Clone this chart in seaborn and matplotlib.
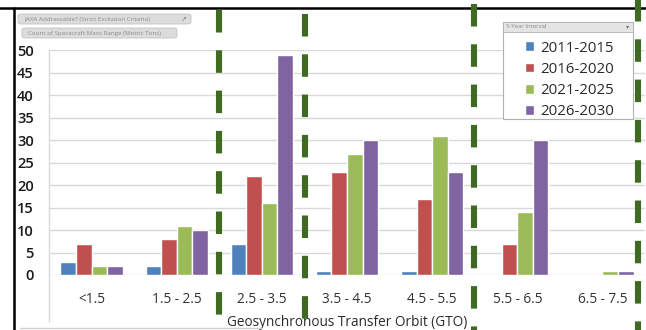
import numpy as np
import pandas as pd
import seaborn as sns
import matplotlib
matplotlib.use("Agg")
import matplotlib.pyplot as plt
from matplotlib.lines import Line2D
from matplotlib.patches import FancyBboxPatch, Rectangle

# Spacecraft counts per mass range (metric tons), by 5-year interval
mass_ranges = ["<1.5", "1.5 - 2.5", "2.5 - 3.5", "3.5 - 4.5", "4.5 - 5.5", "5.5 - 6.5", "6.5 - 7.5"]
intervals = ["2011-2015", "2016-2020", "2021-2025", "2026-2030"]
counts_2011_2015 = [3, 2, 7, 1, 1, 0, 0]
counts_2016_2020 = [7, 8, 22, 23, 17, 7, 0]
counts_2021_2025 = [2, 11, 16, 27, 31, 14, 1]
counts_2026_2030 = [2, 10, 49, 30, 23, 30, 1]
y_ticks = [0, 5, 10, 15, 20, 25, 30, 35, 40, 45, 50]

series = [counts_2011_2015, counts_2016_2020, counts_2021_2025, counts_2026_2030]
df = pd.DataFrame(
    [(r, iv, v) for iv, vals in zip(intervals, series) for r, v in zip(mass_ranges, vals)],
    columns=["range", "interval", "count"],
)

sns.set_style("white")
plt.rcParams["font.family"] = ["Open Sans", "DejaVu Sans"]
plt.rcParams["lines.scale_dashes"] = False

W, H = 646, 330
fig = plt.figure(figsize=(W / 100, H / 100), dpi=100)
fig.patch.set_facecolor("white")


def fx(px):
    return px / W


def fy(py):
    return 1 - py / H


ax_left, ax_right, ax_top, ax_bottom = 49, 645, 50, 275
ax = fig.add_axes([fx(ax_left), fy(ax_bottom), fx(ax_right - ax_left), (ax_bottom - ax_top) / H])

palette = ["#4F81BD", "#C0504D", "#9BBB59", "#8064A2"]
sns.barplot(data=df, x="range", y="count", hue="interval", hue_order=intervals,
            order=mass_ranges, palette=palette, saturation=1, width=0.73,
            errorbar=None, ax=ax, zorder=3)

ax.set_ylim(0, 50)
ax.set_xlim(-0.5, len(mass_ranges) - 0.5)
ax.set_yticks(y_ticks)
ax.yaxis.grid(True, color="#d9d9d9", linewidth=1.0, zorder=0)
ax.set_axisbelow(True)
for s in ["top", "right", "bottom"]:
    ax.spines[s].set_visible(False)
ax.spines["left"].set_color("#d9d9d9")
ax.spines["left"].set_linewidth(1.0)
ax.set_ylabel("")
ax.set_xlabel("Geosynchronous Transfer Orbit (GTO)", fontsize=9.8, color="#2a2a2a", labelpad=6)

ax.tick_params(axis="y", length=4, color="#d9d9d9", pad=7, labelsize=10.5, labelcolor="#1a1a1a")
for t in ax.get_yticklabels():
    t.set_fontweight("semibold")
ax.tick_params(axis="x", which="major", length=0, pad=12, labelsize=9.8, labelcolor="#333333")
ax.set_xticks(np.arange(0.5, len(mass_ranges) - 0.5), minor=True)
ax.tick_params(axis="x", which="minor", length=18, color="#d9d9d9", width=1.0)

# left axis line runs down through the label band
fig.add_artist(Line2D([fx(48.5), fx(48.5)], [fy(ax_bottom), fy(322)], color="#d9d9d9", lw=1.0))
fig.add_artist(Line2D([fx(20), fx(262)], [fy(327.5), fy(327.5)], color="#d0d0d0", lw=1.0))

# legend panel with its field header
ax.legend_.remove()
fig.add_artist(Rectangle((fx(503), fy(119)), fx(130), (119 - 22) / H, transform=fig.transFigure,
                         facecolor="white", edgecolor="#b0b0b0", lw=0.8, zorder=5))
fig.add_artist(Rectangle((fx(503), fy(32)), fx(130), 10 / H, transform=fig.transFigure,
                         facecolor="#e4e4e4", edgecolor="#b0b0b0", lw=0.6, zorder=6))
fig.text(fx(506), fy(27), "5-Year Interval", fontsize=4.3, color="#8a8a8a", va="center", zorder=7)
fig.text(fx(628), fy(27), "\u25be", fontsize=4.5, color="#707070", va="center", ha="center", zorder=7,
         family="DejaVu Sans")
handles = [Rectangle((0, 0), 1, 1, facecolor=c) for c in palette]
fig.legend(handles, intervals, loc="upper left", bbox_to_anchor=(fx(514), fy(30)),
           frameon=False, fontsize=10.8, labelcolor="#2a2a2a", handlelength=0.6,
           handleheight=0.6, handletextpad=0.45, labelspacing=0.42, borderpad=0.2)

# field buttons at the top-left
for (x0, y0, x1, y1, label) in [
    (18, 14, 191, 24, "JAXA Addressable? (Strict Exclusion Criteria)"),
    (22, 28, 177, 38, "Count of Spacecraft Mass Range (Metric Tons)"),
]:
    fig.add_artist(FancyBboxPatch((fx(x0), fy(y1)), fx(x1 - x0), (y1 - y0) / H,
                                  boxstyle="round,pad=0,rounding_size=0.006",
                                  transform=fig.transFigure, facecolor="#dcdcdc",
                                  edgecolor="#c4c4c4", lw=0.6, zorder=5))
    fig.text(fx(x0 + 6), fy((y0 + y1) / 2), label, fontsize=4.5, color="#8c8c8c",
             va="center", zorder=6)
fig.text(fx(184), fy(19), "\u2197", fontsize=5, color="#808080", va="center", ha="center", zorder=6,
         family="DejaVu Sans")

# window frame
fig.add_artist(Line2D([0, 1], [fy(7.5), fy(7.5)], color="black", lw=1.8, zorder=8))
fig.add_artist(Line2D([fx(14), fx(14)], [fy(7.5), 0], color="black", lw=1.8, zorder=8))

# dashed green dividers
for xpx, start in [(219, 10), (305, 14), (474, 4), (637.5, -5)]:
    ln = Line2D([fx(xpx), fx(xpx)], [fy(start), fy(H + 10)], color="#3f6a22",
                lw=4.4, zorder=9, dash_capstyle="butt",
                linestyle=(0, (22.5 * 0.72, 17.8 * 0.72)))
    fig.add_artist(ln)

fig.savefig("out.png", dpi=100, facecolor="white")
